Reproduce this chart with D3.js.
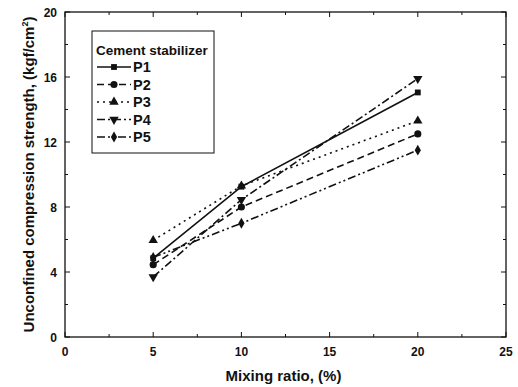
<!DOCTYPE html>
<html>
<head>
<meta charset="utf-8">
<script src="https://cdn.jsdelivr.net/npm/d3@7"></script>
<style>
  body { margin: 0; background: #fff; }
  text { font-family: "Liberation Sans", Arial, sans-serif; fill: #111; font-weight: bold; }
</style>
</head>
<body>
<svg id="chart"></svg>
<script>
//chart data
const mixRatio = [5, 10, 20];
const seriesNames = ["P1", "P2", "P3", "P4", "P5"];
const p1 = [4.85, 9.25, 15.05];
const p2 = [4.45, 8.0, 12.5];
const p3 = [5.95, 9.3, 13.3];
const p4 = [3.7, 8.45, 15.9];
const p5 = [4.9, 7.0, 11.5];
const xTicks = [0, 5, 10, 15, 20, 25];
const yTicks = [0, 4, 8, 12, 16, 20];

const width = 518, height = 387;
const margin = {top: 12, right: 12, bottom: 50, left: 65};

const svg = d3.select("#chart")
    .attr("width", width)
    .attr("height", height);

const x = d3.scaleLinear().domain([0, 25]).range([margin.left, width - margin.right]);
const y = d3.scaleLinear().domain([0, 20]).range([height - margin.bottom, margin.top]);

const ink = "#111";

//frame
svg.append("rect")
    .attr("x", x(0)).attr("y", y(20))
    .attr("width", x(25) - x(0)).attr("height", y(0) - y(20))
    .attr("fill", "none").attr("stroke", ink).attr("stroke-width", 1.3);

//ticks pointing inward on all sides
const minorX = d3.range(0, 25.01, 2.5);
const minorY = d3.range(0, 20.01, 2);
const tickG = svg.append("g").attr("stroke", ink).attr("stroke-width", 1);
minorX.forEach(v => {
    const len = v % 5 === 0 ? 5 : 3;
    tickG.append("line").attr("x1", x(v)).attr("x2", x(v)).attr("y1", y(0)).attr("y2", y(0) - len);
    tickG.append("line").attr("x1", x(v)).attr("x2", x(v)).attr("y1", y(20)).attr("y2", y(20) + len);
});
minorY.forEach(v => {
    const len = v % 4 === 0 ? 5 : 3;
    tickG.append("line").attr("y1", y(v)).attr("y2", y(v)).attr("x1", x(0)).attr("x2", x(0) + len);
    tickG.append("line").attr("y1", y(v)).attr("y2", y(v)).attr("x1", x(25)).attr("x2", x(25) - len);
});

//tick labels
svg.append("g").selectAll("text").data(xTicks).join("text")
    .attr("x", d => x(d)).attr("y", y(0) + 19)
    .attr("text-anchor", "middle").attr("font-size", 12)
    .text(d => d);
svg.append("g").selectAll("text").data(yTicks).join("text")
    .attr("x", x(0) - 8).attr("y", d => y(d) + 4.5)
    .attr("text-anchor", "end").attr("font-size", 12)
    .text(d => d);

//axis titles
svg.append("text")
    .attr("x", (x(0) + x(25)) / 2 - 2).attr("y", 381)
    .attr("text-anchor", "middle").attr("font-size", 15)
    .text("Mixing ratio, (%)");
const yTitle = svg.append("text")
    .attr("transform", `translate(34,${(y(0) + y(20)) / 2}) rotate(-90)`)
    .attr("text-anchor", "middle").attr("font-size", 15);
yTitle.append("tspan").text("Unconfined compression strength, (kgf/cm");
yTitle.append("tspan").attr("font-size", 9).attr("dy", -6).text("2");
yTitle.append("tspan").attr("dy", 6).text(")");

//series
const allSeries = [p1, p2, p3, p4, p5];
const dashes = ["none", "7,4", "2,4", "8,3,2,3", "8,3,2,3,2,3"];
const symbols = [d3.symbolSquare, d3.symbolCircle, d3.symbolTriangle, d3.symbolTriangle, d3.symbolDiamond];
const symSizes = [34, 40, 38, 38, 34];
const rotations = [0, 0, 0, 180, 0];

const line = d3.line().x((d, i) => x(mixRatio[i])).y(d => y(d));

allSeries.forEach((vals, s) => {
    svg.append("path")
        .datum(vals)
        .attr("d", line)
        .attr("fill", "none").attr("stroke", ink).attr("stroke-width", 1.6)
        .attr("stroke-dasharray", dashes[s]);
    svg.append("g").selectAll("path").data(vals).join("path")
        .attr("d", d3.symbol().type(symbols[s]).size(symSizes[s]))
        .attr("transform", (d, i) => `translate(${x(mixRatio[i])},${y(d)}) rotate(${rotations[s]})`)
        .attr("fill", ink);
});

//legend
const lg = svg.append("g");
lg.append("rect")
    .attr("x", 92).attr("y", 31).attr("width", 122).attr("height", 122)
    .attr("fill", "#fff").attr("stroke", ink).attr("stroke-width", 1);
lg.append("text").attr("x", 96).attr("y", 55).attr("font-size", 13.5).text("Cement stabilizer");
seriesNames.forEach((name, s) => {
    const cy = 67 + s * 17.5;
    lg.append("line")
        .attr("x1", 97).attr("x2", 131).attr("y1", cy).attr("y2", cy)
        .attr("stroke", ink).attr("stroke-width", 1.6)
        .attr("stroke-dasharray", dashes[s]);
    lg.append("path")
        .attr("d", d3.symbol().type(symbols[s]).size(symSizes[s]))
        .attr("transform", `translate(114,${cy}) rotate(${rotations[s]})`)
        .attr("fill", ink);
    lg.append("text").attr("x", 133).attr("y", cy + 5).attr("font-size", 14.5).text(name);
});
</script>
</body>
</html>
